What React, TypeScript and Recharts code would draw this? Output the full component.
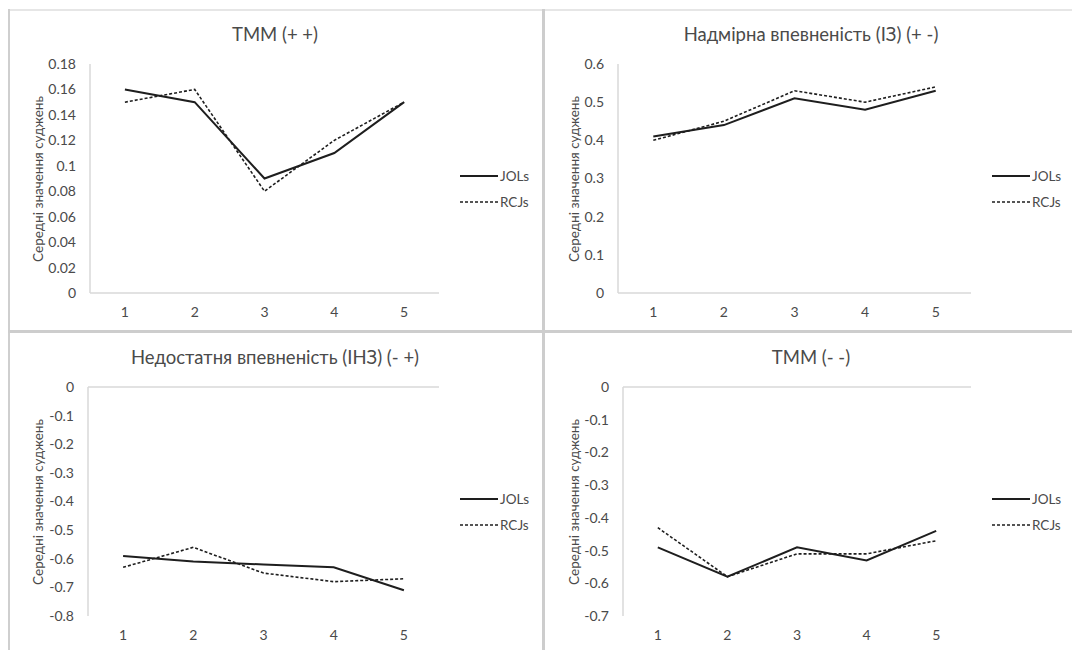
import React from 'react'
import { LineChart, Line, XAxis, YAxis, ReferenceLine } from 'recharts'

const categories = [1, 2, 3, 4, 5]

// ТММ (+ +)
const tmmPPJols = [0.16, 0.15, 0.09, 0.11, 0.15]
const tmmPPRcjs = [0.15, 0.16, 0.08, 0.12, 0.15]
const tmmPPTicks = [0, 0.02, 0.04, 0.06, 0.08, 0.1, 0.12, 0.14, 0.16, 0.18]

// Надмірна впевненість (ІЗ) (+ -)
const overJols = [0.41, 0.44, 0.51, 0.48, 0.53]
const overRcjs = [0.4, 0.45, 0.53, 0.5, 0.54]
const overTicks = [0, 0.1, 0.2, 0.3, 0.4, 0.5, 0.6]

// Недостатня впевненість (ІНЗ) (- +)
const underJols = [-0.59, -0.61, -0.62, -0.63, -0.71]
const underRcjs = [-0.63, -0.56, -0.65, -0.68, -0.67]
const underTicks = [0, -0.1, -0.2, -0.3, -0.4, -0.5, -0.6, -0.7, -0.8]

// ТММ (- -)
const tmmMMJols = [-0.49, -0.58, -0.49, -0.53, -0.44]
const tmmMMRcjs = [-0.43, -0.58, -0.51, -0.51, -0.47]
const tmmMMTicks = [0, -0.1, -0.2, -0.3, -0.4, -0.5, -0.6, -0.7]

const seriesNames = ['JOLs', 'RCJs']
const yLabel = 'Середні значення суджень'

const FONT = "Lato, 'Open Sans', sans-serif"
const TEXT = '#4a4a4a'
const AXIS = '#d9d9d9'
const LINE = '#1e1e1e'

const fmt = (v: number) => String(+v.toFixed(2))

type PanelProps = {
    left: number
    top: number
    width: number
    height: number
    yWidth: number
    marginLeft: number
    title: string
    titleX: number
    jols: number[]
    rcjs: number[]
    ticks: number[]
    negative: boolean
}

const Panel: React.FC<PanelProps> = ({ left, top, width, height, yWidth, marginLeft, title, titleX, jols, rcjs, ticks, negative }) => {
    const data = categories.map((c, i) => ({ x: c, jols: jols[i], rcjs: rcjs[i] }))
    const lo = Math.min(...ticks)
    const hi = Math.max(...ticks)
    const legendX = left + width - 80
    return (
        <>
            <div
                style={{
                    position: 'absolute', left: titleX - 200, top: top + 11, width: 400, textAlign: 'center',
                    fontSize: 18.5, lineHeight: '24px', color: TEXT, fontFamily: FONT,
                }}
            >
                {title}
            </div>
            <div
                style={{
                    position: 'absolute', left: left + 28 - 100, top: top + 168 - 10, width: 200, height: 20,
                    lineHeight: '20px', textAlign: 'center', transform: 'rotate(-90deg)',
                    fontSize: 13.5, color: TEXT, fontFamily: FONT, whiteSpace: 'nowrap',
                }}
            >
                {yLabel}
            </div>
            <div style={{ position: 'absolute', left, top }}>
                <LineChart width={width} height={height} data={data} margin={{ top: 53, right: 101, bottom: height - 53 - 229 - 30, left: marginLeft }}>
                    <XAxis
                        dataKey="x" type="number" domain={[0.5, 5.5]} ticks={categories}
                        axisLine={negative ? false : { stroke: AXIS, strokeWidth: 1.5 }}
                        tickLine={false} tickMargin={8} height={30}
                        tick={{ fill: TEXT, fontSize: 14, fontFamily: FONT }}
                    />
                    <YAxis
                        type="number" domain={[lo, hi]} ticks={ticks} width={yWidth} interval={0}
                        axisLine={{ stroke: AXIS, strokeWidth: 1.5 }} tickLine={false} tickMargin={8}
                        tickFormatter={fmt}
                        tick={{ fill: TEXT, fontSize: 14, fontFamily: FONT }}
                    />
                    {negative && <ReferenceLine y={0} stroke={AXIS} strokeWidth={1.5} />}
                    <Line dataKey="jols" name={seriesNames[0]} stroke={LINE} strokeWidth={2} dot={false} activeDot={false} isAnimationActive={false} />
                    <Line dataKey="rcjs" name={seriesNames[1]} stroke={LINE} strokeWidth={1.6} strokeDasharray="3 2" dot={false} activeDot={false} isAnimationActive={false} />
                </LineChart>
            </div>
            {seriesNames.map((n, i) => (
                <div key={n} style={{ position: 'absolute', left: legendX, top: top + 155 + i * 26, height: 20, display: 'flex', alignItems: 'center' }}>
                    <svg width={40} height={20}>
                        <line x1={0} y1={10} x2={38} y2={10} stroke={LINE} strokeWidth={i === 0 ? 2 : 1.6} strokeDasharray={i === 0 ? undefined : '3 2'} />
                    </svg>
                    <span style={{ fontSize: 13.5, color: TEXT, fontFamily: FONT }}>{n}</span>
                </div>
            ))}
        </>
    )
}

const App: React.FC = () => {
    return (
        <div style={{ position: 'absolute', left: 0, top: 0, width: 1072, height: 650, overflow: 'hidden', background: '#fff' }}>
            {/* frame and dividers */}
            <div style={{ position: 'absolute', left: 9, top: 9, width: 1063, height: 2, background: '#e6e6e6' }} />
            <div style={{ position: 'absolute', left: 8, top: 9, width: 2, height: 641, background: '#cfcfcf' }} />
            <div style={{ position: 'absolute', left: 542, top: 9, width: 3, height: 641, background: '#cdcdcd' }} />
            <div style={{ position: 'absolute', left: 8, top: 330, width: 1064, height: 3, background: '#cdcdcd' }} />

            <Panel left={10} top={11} width={530} height={319} yWidth={50} marginLeft={30} title="ТММ (+ +)" titleX={275}
                jols={tmmPPJols} rcjs={tmmPPRcjs} ticks={tmmPPTicks} negative={false} />
            <Panel left={546} top={11} width={526} height={319} yWidth={50} marginLeft={22} title="Надмірна впевненість (ІЗ) (+ -)" titleX={811}
                jols={overJols} rcjs={overRcjs} ticks={overTicks} negative={false} />
            <Panel left={10} top={334} width={530} height={316} yWidth={50} marginLeft={28} title="Недостатня впевненість (ІНЗ) (- +)" titleX={275}
                jols={underJols} rcjs={underRcjs} ticks={underTicks} negative={true} />
            <Panel left={546} top={334} width={526} height={316} yWidth={50} marginLeft={27} title="ТММ (- -)" titleX={811}
                jols={tmmMMJols} rcjs={tmmMMRcjs} ticks={tmmMMTicks} negative={true} />
        </div>
    )
}

export default App
